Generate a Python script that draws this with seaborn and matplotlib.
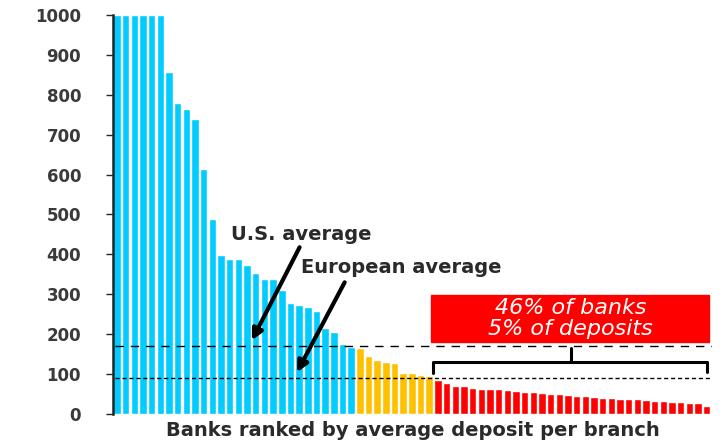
import numpy as np
import pandas as pd
import matplotlib
matplotlib.use("Agg")
import matplotlib.pyplot as plt
import seaborn as sns

# values (deposits per branch, ranked)
blue_vals = [1000, 1000, 1000, 1000, 1000, 1000, 858, 780, 765, 740, 613, 489,
             398, 388, 388, 374, 354, 338, 338, 311, 277, 273, 269, 259,
             216, 205, 175, 168]
orange_vals = [165, 145, 135, 130, 127, 103, 102, 98, 94]
red_vals = [85, 78, 70, 69, 66, 63, 62, 62, 61, 58, 56, 55, 52, 51, 49, 47,
            46, 44, 42, 41, 40, 38, 37, 36, 35, 33, 31, 30, 29, 28, 27, 19]
us_avg = 170
eu_avg = 90

groups = ["top"] * len(blue_vals) + ["mid"] * len(orange_vals) + ["low"] * len(red_vals)
vals = blue_vals + orange_vals + red_vals
df = pd.DataFrame({"rank": np.arange(len(vals)), "deposit": vals, "group": groups})
palette = {"top": "#00CCFF", "mid": "#FFC000", "low": "#FF0000"}

sns.set_style("white")
plt.rcParams["font.family"] = ["DejaVu Sans"]

fig = plt.figure(figsize=(7.25, 4.45), dpi=100)
ax = fig.add_axes([0.156, 0.07, 0.826, 0.896])

sns.barplot(data=df, x="rank", y="deposit", hue="group", palette=palette,
            dodge=False, width=0.86, legend=False, ax=ax, saturation=1)

n = len(vals)
ax.set_xlim(-0.45, n - 0.4)
ax.set_ylim(0, 1000)
ax.set_yticks(range(0, 1001, 100))
ax.tick_params(axis="y", labelsize=12, labelcolor="#3a3a3a", length=5,
               width=1, left=True, pad=18)
for lab in ax.get_yticklabels():
    lab.set_fontweight("bold")
ax.set_xticks([])
ax.set_xlabel("Banks ranked by average deposit per branch", fontsize=14,
              fontweight="bold", color="#2a2a2a", labelpad=5)
ax.set_ylabel("")
for s in ["top", "right", "bottom"]:
    ax.spines[s].set_visible(False)
ax.spines["left"].set_linewidth(1.8)
ax.spines["left"].set_color("#222222")

# average lines
ax.hlines(us_avg, -0.2, n - 0.4, colors="black", linestyles=(0, (6, 5)), lw=1)
ax.hlines(eu_avg, -0.2, n - 0.4, colors="black", linestyles=(0, (3, 2)), lw=1)

# labels + arrows
ax.text(13.1, 449, "U.S. average", fontsize=14, fontweight="bold",
        color="#2a2a2a", va="center")
ax.annotate("", xy=(15.4, 178), xytext=(21.2, 424),
            arrowprops=dict(arrowstyle="-|>", color="black", lw=3,
                            mutation_scale=16))
ax.text(21.2, 366, "European average", fontsize=14, fontweight="bold",
        color="#2a2a2a", va="center")
ax.annotate("", xy=(20.6, 98), xytext=(26.4, 336),
            arrowprops=dict(arrowstyle="-|>", color="black", lw=3,
                            mutation_scale=16))

# red box
ax.add_patch(plt.Rectangle((36.2, 180), 32.1, 118, color="#FF0000", zorder=3))
ax.text(52.3, 239, "46% of banks\n5% of deposits", fontsize=16, color="white",
        style="italic", ha="center", va="center", linespacing=1.1, zorder=4)

# brace
bx = [36.4, 36.4, 68.0, 68.0]
by = [103, 131, 131, 105]
ax.plot(bx, by, color="black", lw=2.2, solid_joinstyle="round")
ax.plot([52.3, 52.3], [131, 166], color="black", lw=2.2)

fig.savefig("out.png", dpi=100)
